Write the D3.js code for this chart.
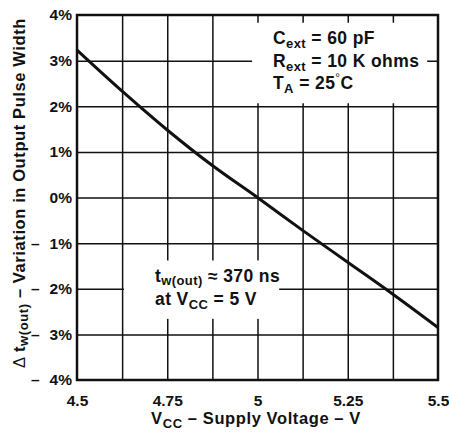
<!DOCTYPE html>
<html>
<head>
<meta charset="utf-8">
<script src="https://cdn.jsdelivr.net/npm/d3@7"></script>
<style>
  body { margin: 0; background: #fff; }
  text { font-family: "Liberation Sans", Arial, sans-serif; font-weight: bold; fill: #111; }
</style>
</head>
<body>
<div id="chart"></div>
<script>
// datos
const voltage = [4.5, 4.625, 4.75, 4.875, 5, 5.125, 5.25, 5.375, 5.5];
const variation = [3.23, 2.33, 1.48, 0.7, 0, -0.72, -1.42, -2.12, -2.85];

const xTicks = [4.5, 4.75, 5, 5.25, 5.5];
const xGrid = [4.625, 4.75, 4.875, 5, 5.125, 5.25, 5.375];
const yTicks = [4, 3, 2, 1, 0, -1, -2, -3, -4];

const width = 449;
const height = 437;
const margin = { top: 15, bottom: 57, left: 77, right: 11 };
const w = width - margin.left - margin.right;
const h = height - margin.top - margin.bottom;

const svg = d3.select("div#chart")
  .append("svg")
  .attr("width", width)
  .attr("height", height);

const g = svg.append("g")
  .attr("transform", `translate(${margin.left}, ${margin.top})`);

// Escalas
const x = d3.scaleLinear().domain([4.5, 5.5]).range([0, w]);
const y = d3.scaleLinear().domain([-4, 4]).range([h, 0]);

// rejilla
const gridX = g.append("g")
  .attr("transform", `translate(0, ${h})`)
  .call(d3.axisBottom(x).tickValues(xGrid).tickSize(-h).tickFormat(""));
const gridY = g.append("g")
  .call(d3.axisLeft(y).tickValues(yTicks.filter(d => d != 4 && d != -4)).tickSize(-w).tickFormat(""));
[gridX, gridY].forEach(a => {
  a.select(".domain").remove();
  a.selectAll("line").attr("stroke", "#111").attr("stroke-width", 1.5);
});

// cajas de texto (tapan la rejilla)
g.append("rect")
  .attr("x", x(4.985)).attr("y", y(3.83))
  .attr("width", x(5.47) - x(4.985)).attr("height", y(2.0) - y(3.83) - 3)
  .attr("fill", "#fff");
g.append("rect")
  .attr("x", x(4.63)).attr("y", y(-1.38))
  .attr("width", x(5.06) - x(4.63)).attr("height", y(-2.66) - y(-1.38))
  .attr("fill", "#fff");

// marco
g.append("rect")
  .attr("width", w).attr("height", h)
  .attr("fill", "none").attr("stroke", "#111").attr("stroke-width", 2.5);

// curva
const line = d3.line()
  .x((d, i) => x(voltage[i]))
  .y(d => y(d))
  .curve(d3.curveMonotoneX);

g.append("path")
  .datum(variation)
  .attr("d", line)
  .attr("fill", "none")
  .attr("stroke", "#111")
  .attr("stroke-width", 3);

// etiquetas eje X
const xAxis = g.append("g")
  .attr("transform", `translate(0, ${h})`)
  .call(d3.axisBottom(x).tickValues(xTicks).tickSize(0).tickPadding(15)
    .tickFormat(d => String(d)));
xAxis.select(".domain").remove();
xAxis.selectAll("text")
  .attr("font-size", 15.5)
  .attr("font-family", null);

// etiquetas eje Y
const yAxis = g.append("g")
  .call(d3.axisLeft(y).tickValues(yTicks).tickSize(0).tickPadding(5)
    .tickFormat(d => Math.abs(d) + "%"));
yAxis.select(".domain").remove();
yAxis.selectAll("text")
  .attr("font-size", 15.5)
  .attr("font-family", null);
yAxis.selectAll(".tick")
  .filter(d => d < 0)
  .append("text")
  .attr("x", 31 - margin.left)
  .attr("dy", "0.32em")
  .attr("text-anchor", "start")
  .attr("font-size", 15.5)
  .text("–");

// titulo eje X
const xt = svg.append("text")
  .attr("x", 256).attr("y", 424)
  .attr("text-anchor", "middle")
  .attr("letter-spacing", 0.6)
  .attr("font-size", 16.5);
xt.append("tspan").text("V");
xt.append("tspan").attr("font-size", 13).attr("dy", 4).text("CC");
xt.append("tspan").attr("dy", -4).text(" – Supply Voltage – V");

// titulo eje Y
const yt = svg.append("text")
  .attr("transform", "translate(25, 193) rotate(-90)")
  .attr("text-anchor", "middle")
  .attr("letter-spacing", 0.6)
  .attr("font-size", 16.5);
yt.append("tspan").attr("font-weight", "normal").text("Δ ");
yt.append("tspan").text("t");
yt.append("tspan").attr("font-size", 13).attr("dy", 3).text("w(out)");
yt.append("tspan").attr("dy", -3).text(" – Variation in Output Pulse Width");

// anotacion superior
function sub(sel, main, s, rest) {
  sel.append("tspan").text(main);
  sel.append("tspan").attr("font-size", 13).attr("dy", 4).text(s);
  sel.append("tspan").attr("dy", -4).text(rest);
}
const a1 = svg.append("text").attr("x", 273).attr("y", 44).attr("font-size", 17.5).attr("letter-spacing", 0.4);
sub(a1, "C", "ext", " = 60 pF");
const a2 = svg.append("text").attr("x", 273).attr("y", 67).attr("font-size", 17.5).attr("letter-spacing", 0.4);
sub(a2, "R", "ext", " = 10 K ohms");
const a3 = svg.append("text").attr("x", 273).attr("y", 89).attr("font-size", 17.5).attr("letter-spacing", 0.4);
a3.append("tspan").text("T");
a3.append("tspan").attr("font-size", 13).attr("dy", 4).text("A");
a3.append("tspan").attr("dy", -4).text(" = 25");
a3.append("tspan").attr("font-size", 12).attr("font-weight", "normal").attr("dy", -7).text("°");
a3.append("tspan").attr("dy", 7).text("C");

// anotacion inferior
const b1 = svg.append("text").attr("x", 155).attr("y", 282).attr("font-size", 17.5).attr("letter-spacing", 0.4);
b1.append("tspan").text("t");
b1.append("tspan").attr("font-size", 13).attr("dy", 3).text("w(out)");
b1.append("tspan").attr("dy", -3).text(" ≈ 370 ns");
const b2 = svg.append("text").attr("x", 155).attr("y", 305).attr("font-size", 17.5).attr("letter-spacing", 0.4);
sub(b2, "at V", "CC", " = 5 V");
</script>
</body>
</html>
